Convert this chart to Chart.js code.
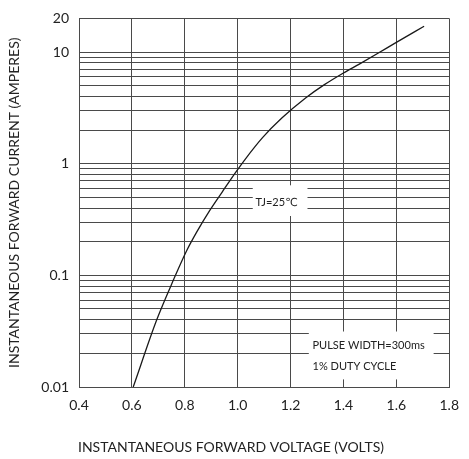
<!DOCTYPE html>
<html>
<head>
<meta charset="utf-8">
<script src="https://cdn.jsdelivr.net/npm/chart.js@4.4.1/dist/chart.umd.min.js"></script>
<style>
  html, body { margin: 0; padding: 0; background: #fff; }
  #wrap { width: 469px; height: 459px; }
</style>
</head>
<body>
<div id="wrap"><canvas id="GraficoVf" width="469" height="459"></canvas></div>
<script>
// curva (V em volts, I em amperes)
var tensao = [0.605, 0.694, 0.759, 0.807, 0.846, 0.894, 0.942, 0.993, 1.029, 1.094, 1.167, 1.258, 1.328, 1.4, 1.46, 1.532, 1.6, 1.705];
var corrente = [0.01, 0.04, 0.093, 0.166, 0.246, 0.38, 0.56, 0.84, 1.1, 1.71, 2.56, 3.89, 5.1, 6.49, 7.8, 9.8, 12.2, 17.0];

var xTicks = [0.4, 0.6, 0.8, 1.0, 1.2, 1.4, 1.6, 1.8];
var yLabels = [0.01, 0.1, 1, 10, 20];
var yDecadas = [0.01, 0.1, 1];
var yPassos = [1, 2, 3, 4, 5, 6, 7, 8, 9];

var tituloX = 'INSTANTANEOUS FORWARD VOLTAGE (VOLTS)';
var tituloY = 'INSTANTANEOUS FORWARD CURRENT (AMPERES)';

var yGrid = [];
yDecadas.forEach(function (d) {
    yPassos.forEach(function (p) { yGrid.push(d * p); });
});
yGrid.push(10, 20);

var pontos = tensao.map(function (v, i) { return { x: v, y: corrente[i] }; });

// caixas de texto em cima da grade
var notas = [
    { caixa: [1.057, 1.264, 0.34, 0.64], linhas: [{ x: 1.147, y: 0.45, t: 'TJ=25\u2103' }], align: 'center' },
    { caixa: [1.269, 1.741, 0.0117, 0.0314], linhas: [
        { x: 1.283, y: 0.0237, t: 'PULSE WIDTH=300ms' },
        { x: 1.283, y: 0.0154, t: '1% DUTY CYCLE' }
    ], align: 'left' }
];

var pluginNotas = {
    id: 'notas',
    beforeDatasetsDraw: function (chart) {
        var ctx = chart.ctx;
        var sx = chart.scales.x, sy = chart.scales.y;
        ctx.save();
        notas.forEach(function (n) {
            var x0 = sx.getPixelForValue(n.caixa[0]), x1 = sx.getPixelForValue(n.caixa[1]);
            var y0 = sy.getPixelForValue(n.caixa[3]), y1 = sy.getPixelForValue(n.caixa[2]);
            ctx.fillStyle = '#fff';
            ctx.fillRect(x0, y0, x1 - x0, y1 - y0);
            ctx.fillStyle = '#222';
            ctx.font = '11px Lato, "DejaVu Sans", sans-serif';
            ctx.textAlign = n.align;
            ctx.textBaseline = 'middle';
            n.linhas.forEach(function (l) {
                ctx.fillText(l.t, sx.getPixelForValue(l.x), sy.getPixelForValue(l.y));
            });
        });
        ctx.restore();
    },
    afterDraw: function (chart) {
        // titulo do eixo X alinhado com o inicio da grade
        var ctx = chart.ctx;
        ctx.save();
        ctx.fillStyle = '#222';
        ctx.font = '14px Lato, sans-serif';
        ctx.textAlign = 'left';
        ctx.textBaseline = 'middle';
        ctx.fillText(tituloX, chart.chartArea.left - 1, 447);
        ctx.restore();
    }
};

var ctx = document.getElementById('GraficoVf').getContext('2d');

var grafico = new Chart(ctx, {
    type: 'scatter',
    data: {
        datasets: [{
            label: 'IF',
            data: pontos,
            showLine: true,
            borderColor: '#1a1a1a',
            borderWidth: 1.3,
            pointRadius: 0,
            cubicInterpolationMode: 'monotone'
        }]
    },
    plugins: [pluginNotas],
    options: {
        responsive: false,
        animation: false,
        devicePixelRatio: 1,
        layout: { padding: { top: 14, right: 10, left: 0, bottom: 0 } },
        plugins: {
            legend: { display: false },
            tooltip: { enabled: false }
        },
        scales: {
            x: {
                type: 'linear',
                min: 0.4,
                max: 1.8,
                afterBuildTicks: function (s) {
                    s.ticks = xTicks.map(function (v) { return { value: v }; });
                },
                afterFit: function (s) { s.height = 72; },
                grid: { color: '#4a4a4a', lineWidth: 1, drawTicks: false },
                border: { color: '#4a4a4a' },
                ticks: {
                    padding: 10,
                    color: '#222',
                    maxRotation: 0,
                    autoSkip: false,
                    font: { family: 'Lato', size: 14 },
                    callback: function (v) { return Number(v).toFixed(1); }
                },
                title: { display: false }
            },
            y: {
                type: 'logarithmic',
                min: 0.01,
                max: 20,
                afterBuildTicks: function (s) {
                    s.ticks = yGrid.map(function (v) { return { value: v }; });
                },
                afterFit: function (s) { s.width = 79; },
                grid: { color: '#4a4a4a', lineWidth: 1, drawTicks: false },
                border: { color: '#4a4a4a' },
                ticks: {
                    padding: 10,
                    color: '#222',
                    autoSkip: false,
                    font: { family: 'Lato', size: 14 },
                    callback: function (v) {
                        for (var i = 0; i < yLabels.length; i++) {
                            if (Math.abs(yLabels[i] - v) < 1e-9) return String(yLabels[i]);
                        }
                        return '';
                    }
                },
                title: {
                    display: true,
                    text: tituloY,
                    color: '#222',
                    font: { family: 'Lato', size: 14 },
                    padding: { top: 6, bottom: 0 }
                }
            }
        }
    }
});
</script>
</body>
</html>
